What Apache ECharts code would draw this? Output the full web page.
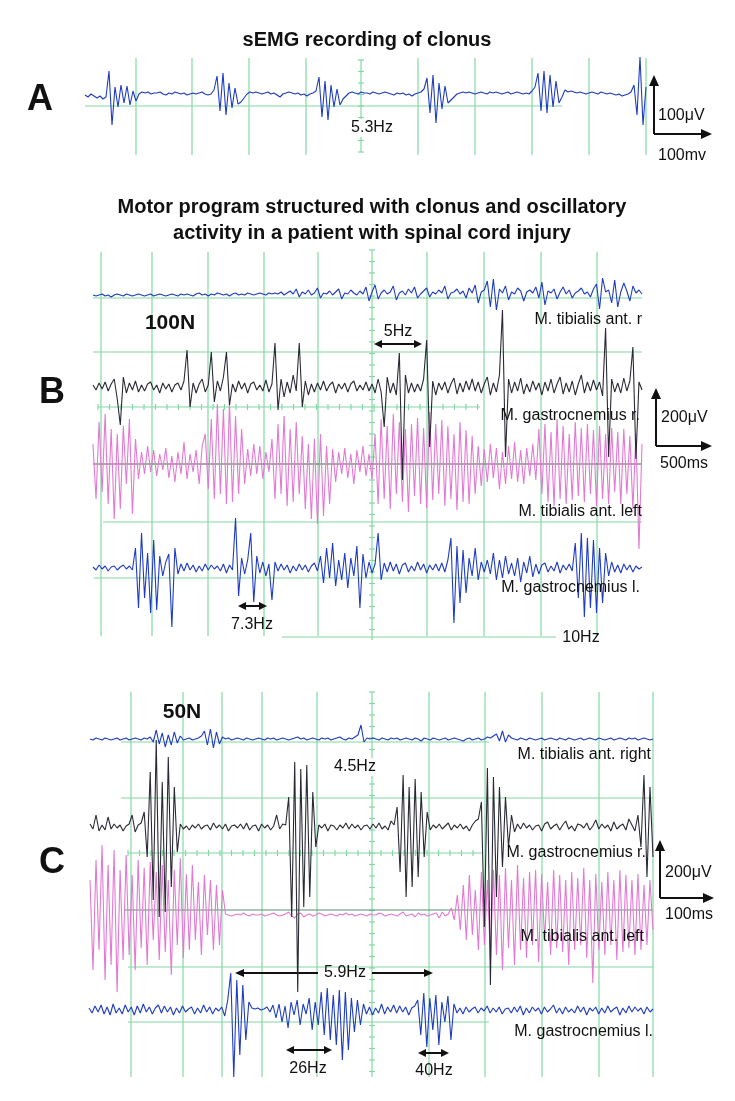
<!DOCTYPE html>
<html><head><meta charset="utf-8">
<script src="https://cdn.jsdelivr.net/npm/echarts@6/dist/echarts.min.js"></script>
<style>html,body{margin:0;padding:0;background:#fff}#c{width:735px;height:1101px}</style>
</head><body><div id="c"></div>
<script>
// ---------- DATA (amplitudes, arbitrary units, baseline = 0) ----------
const traceA = [0,-2,1,-1,-3,-1,-4,-2,
 24,-30,8,-12,10,-8,9,-10,4,-6,1,
 3,2,3,1,2,2,3,1,0,2,1,3,2,1,2,0,1,2,1,2,3,1,0,
 1,5,19,-16,22,-20,12,-13,7,-9,-7,
 -3,1,3,2,3,2,1,2,3,1,2,0,-2,1,2,3,2,1,2,0,1,-1,1,
 2,4,18,-22,14,-25,10,-12,6,-10,-4,-1,
 2,3,2,1,3,2,2,1,3,2,1,2,3,2,1,0,2,1,2,0,1,-1,1,2,
 3,6,17,-18,20,-28,12,-14,9,-8,-5,-2,
 1,2,3,2,3,2,1,2,3,2,1,3,2,3,2,1,2,3,1,2,3,2,1,2,1,
 4,8,22,-16,24,-18,20,-12,14,-8,-2,
 5,3,4,3,2,3,2,1,2,3,2,1,3,2,1,2,1,0,1,-1,0,1,
 3,10,-20,38,-30,8];

const tibRightB = [0,-1,0,1,-1,0,-2,0,1,0,-1,1,0,-1,0,1,0,-1,0,1,-1,0,1,0,-1,0,1,0,-1,1,
 0,1,0,-1,1,2,0,1,-1,1,0,2,1,0,1,-1,1,2,0,1,0,2,1,0,1,2,1,0,2,1,
 2,1,3,0,2,4,1,6,-2,3,1,5,0,2,7,-3,2,1,4,0,3,6,-4,2,1,5,2,0,4,1,
 8,-6,3,10,-4,2,5,1,3,9,-5,2,4,0,6,2,8,-3,1,4,7,-2,3,1,5,2,9,-4,2,3,
 6,1,4,-3,7,2,10,-8,3,5,14,-12,16,-15,6,2,9,-5,3,1,7,4,-6,3,5,2,8,-3,13,-10,
 4,2,6,-4,3,8,1,5,-3,2,4,7,1,3,-2,6,11,-14,17,3,5,-8,15,-12,3,12,4,-6,9,2,5,1];

const gasRightB = [2,-3,4,-2,5,-4,3,8,-12,-38,10,-6,4,-3,6,-5,2,-4,3,5,-3,2,-6,4,-2,3,-5,2,4,-3,
 6,37,-20,4,-6,3,8,-5,2,35,-15,6,-4,10,35,-18,3,-5,6,-2,4,-6,3,5,-3,2,-4,7,-5,3,
 44,-23,8,-10,5,-6,12,-4,44,-20,6,-8,3,-5,4,-3,6,-4,2,5,-6,3,-2,4,-5,3,6,-4,2,-3,
 5,-4,3,-6,8,-5,-40,10,-6,4,-8,34,-93,12,-6,4,-5,3,-4,8,47,-60,6,-8,4,-3,5,-6,3,9,
 -7,4,-5,6,-3,8,-4,5,-6,3,10,-8,4,-5,12,77,-70,8,-6,5,-4,9,-7,3,-5,6,-3,4,-8,5,
 -4,8,-6,3,10,-7,4,-5,6,-8,3,12,-6,5,-4,7,-3,5,-9,59,-70,8,-5,4,-6,9,-4,6,40,-72,5,-3];

const tibLeftB = [20,-35,42,-28,50,-40,35,-55,30,-45,38,-20,45,-50,25,
 -15,12,-10,18,-8,14,-12,10,-6,16,-14,8,-18,12,-10,22,-15,10,-8,14,-20,18,
 30,-25,45,-35,60,-30,55,-40,62,-38,48,-30,35,-20,
 15,-12,20,-10,18,-15,12,-8,25,
 -35,40,-30,48,-42,35,-38,42,-30,28,
 -45,20,-55,25,-60,30,-52,18,-40,15,
 -18,12,-10,16,-14,10,-20,14,-8,18,-12,10,-15,
 30,-40,45,-35,38,-45,50,-30,42,-38,35,-48,40,-32,46,-40,36,-44,52,-36,40,-30,44,-42,38,-35,30,-46,42,-38,34,-40,28,-30,
 18,-22,15,-18,20,-14,16,-25,12,-20,18,-15,22,-18,14,-20,16,-12,20,-16,
 35,-30,40,-38,32,-42,45,-35,38,-40,30,-36,42,-32,36,-38,40,-30,34,-42,38,-35,30,-40,36,-28,
 32,-40,35,-30,28,-45,30,-85,20];

const gasLeftB = [1,-2,3,-1,2,-3,1,2,-2,1,3,-1,2,-2,
 20,-40,35,-30,15,-45,28,-42,12,-8,6,14,-59,20,
 -6,4,-3,5,-2,3,-4,2,-3,4,-2,3,-1,2,-3,4,-5,3,-2,
 50,-28,10,-6,8,35,-34,12,-5,6,-8,4,-32,6,
 -3,4,-2,3,-5,2,-3,4,-2,3,-4,2,5,-3,
 12,-15,20,-10,25,-18,8,-12,15,-20,10,-8,22,-40,14,-10,6,-5,4,
 35,-12,5,-4,6,-3,4,-6,3,5,-4,2,-3,6,-2,4,-5,3,-2,4,-3,5,-4,8,
 30,-55,22,-35,18,-25,10,-8,20,-12,6,-4,8,-6,
 15,-12,8,-10,12,-6,5,-8,10,-14,6,-5,12,-9,4,-6,3,5,-4,2,-3,6,-5,3,-2,4,-3,
 25,-30,35,-49,30,-40,28,-45,20,-35,15,
 -8,6,-4,3,-5,4,-2,3,-4,2,-1,1];

const tibRightC = [0,-1,1,0,-1,1,0,-1,0,1,-1,0,1,-1,0,1,0,-1,1,0,
 2,-3,9,-5,6,-8,4,-6,7,-4,3,
 -1,0,1,-1,0,1,
 3,8,-6,10,-9,7,-5,2,
 0,1,-1,0,1,0,-1,1,0,-1,0,1,0,-1,1,0,1,-1,0,1,0,-1,0,1,2,0,1,-1,0,1,0,-1,1,0,1,-1,0,1,2,0,-1,1,0,
 2,4,14,-3,1,0,
 1,0,-1,1,0,-1,1,0,1,-1,0,1,0,-1,1,0,-2,1,0,-1,1,0,-1,0,1,-1,0,1,0,-1,-2,0,1,-1,0,1,-1,0,2,1,3,
 5,-2,8,-3,4,1,
 0,-1,1,0,-1,1,0,-1,0,1,-1,0,1,0,-1,1,0,-1,1,0,-1,0,1,-1,0,1,0,-1,1,0,-1,0,1,-1,0,1,0,-1,1,0,1,-1,0,1,0,-1,0];

const gasRightC = [3,-2,12,-4,2,-3,10,-2,3,-1,2,-4,1,3,12,-5,2,4,
 15,-30,55,-73,87,-90,45,-85,70,-60,40,-25,
 3,-2,1,-3,2,-1,3,-2,1,2,-3,4,-1,2,-2,3,-4,1,2,-1,3,-2,4,-3,1,2,-4,3,-1,2,-3,1,12,-2,3,2,
 30,-90,65,-165,58,-80,62,-70,35,-20,
 2,-1,3,-4,2,1,-3,2,-1,4,-2,3,-1,2,-3,1,2,-2,3,-1,4,-2,1,-3,6,2,
 20,-45,52,-70,40,-60,48,-50,35,-30,15,
 -3,2,-1,3,-2,1,4,-3,2,-1,3,-2,1,-4,2,6,8,
 25,-100,59,-158,50,-70,40,-40,30,-20,12,-5,
 3,-2,4,-1,2,-3,1,2,-4,3,5,-2,1,3,-3,2,6,-2,1,-4,3,2,-1,4,-3,1,7,-2,3,-1,2,-4,5,-2,1,3,-3,8,2,-4,
 12,-20,52,-50,40,-30];

const tibLeftC = [30,-60,50,-40,65,-70,45,-55,60,-82,40,-50,55,-45,35,-60,50,-38,42,-55,48,-30,38,-50,45,-42,30,-65,40,-35,52,-48,36,-40,45,-30,28,-45,35,-25,30,-40,25,-35,20,
 -4,-5,-6,-5,-4,-5,-3,-5,-6,-4,-5,-5,-4,-6,-5,-4,-3,-5,-6,-5,-4,-2,-6,-8,-4,-3,-7,-5,-4,-6,
 -5,-3,-4,-6,-5,-4,-5,-6,-4,-5,-3,-5,-4,-6,-5,-4,-5,-6,-4,-5,-5,-3,-4,-6,-5,-4,-5,-6,-4,-2,
 -6,-5,-4,-7,-3,-5,-4,-6,-5,-4,-3,-8,-2,-6,-4,2,-10,
 15,-20,25,-30,35,-25,20,-40,38,-35,30,-50,40,-45,35,-60,42,-38,30,-55,45,-40,32,-48,38,-35,40,-52,36,-30,28,-45,40,-38,35,-42,30,-55,38,-40,32,-35,42,-48,30,-73,36,-40,28,-45,38,-35,30,-50,40,-42,35,-38,30,-45,36,-40,25,-35,30,-20];

const gasLeftC = [2,-3,4,-2,5,-4,3,-5,6,-3,2,-4,5,-2,3,-5,4,-3,6,-2,3,-4,2,5,-3,4,-2,3,-5,2,-3,4,-2,1,3,-4,2,-3,5,-2,3,-4,2,-1,3,-6,
 10,37,-67,30,-45,25,-30,8,
 2,1,2,0,1,3,-2,
 5,-8,6,-12,4,-18,8,-5,10,-15,6,-4,
 12,-20,8,-15,18,-25,22,-30,15,-35,20,-50,18,-40,12,-22,10,-15,6,
 -4,3,-5,2,-3,6,-4,3,-2,5,-3,4,-2,3,-5,2,4,
 10,-25,17,-37,12,-20,15,-35,8,-12,14,-30,6,
 -3,2,-4,3,-2,1,3,-3,2,-1,4,-3,2,-2,3,-4,1,2,-3,3,-2,4,-5,2,-3,3,-1,2,-4,3,-2,1,5,-3,2,-4,3,-2,1,-3,4,-2,3,-5,2,-1,3,-4,2,-3,4,-2,1,3,-5,2,-3,4,-2,3,-1,2,-4,3,-2,1];

// ---------- STYLE / LAYOUT ----------
const BLUE = '#1f3cc0', DARK = '#2a2a36', PINK = '#e27ad2', GREEN = '#84d8a4', INK = '#111';
const FONT = "'Liberation Sans', Arial, sans-serif";

const traces = [
  {name:'A', data:traceA,     x0:85, x1:646, base:95,   up:45,  down:45,  color:BLUE},
  {name:'B1', data:tibRightB, x0:93, x1:642, base:295,  up:30,  down:30,  color:BLUE},
  {name:'B3', data:tibLeftB,  x0:93, x1:642, base:464,  up:70,  down:95,  color:PINK},
  {name:'B2', data:gasRightB, x0:93, x1:642, base:387,  up:85,  down:100, color:DARK},
  {name:'B4', data:gasLeftB,  x0:93, x1:642, base:568,  up:60,  down:70,  color:BLUE},
  {name:'C1', data:tibRightC, x0:90, x1:653, base:739,  up:30,  down:30,  color:BLUE},
  {name:'C3', data:tibLeftC,  x0:90, x1:653, base:910,  up:70,  down:90,  color:PINK},
  {name:'C2', data:gasRightC, x0:90, x1:653, base:827,  up:95,  down:175, color:DARK},
  {name:'C4', data:gasLeftC,  x0:89, x1:653, base:1010, up:45,  down:75,  color:BLUE}
];

const grid = [], xAxis = [], yAxis = [], series = [];
traces.forEach((t, i) => {
  grid.push({left:t.x0, top:t.base - t.up, width:t.x1 - t.x0, height:t.up + t.down});
  xAxis.push({gridIndex:i, type:'value', min:0, max:t.data.length - 1, show:false});
  yAxis.push({gridIndex:i, type:'value', min:-t.down, max:t.up, show:false});
  series.push({type:'line', name:t.name, xAxisIndex:i, yAxisIndex:i,
    data:t.data.map((v, k) => [k, v]), showSymbol:false, symbol:'none',
    lineStyle:{color:t.color, width:1.1}, z:5, animation:false, silent:true});
});

// ---------- decorations (oscilloscope graticule, labels) ----------
const els = [];
function L(x1,y1,x2,y2,c,w){ els.push({type:'line', z:1, silent:true, shape:{x1,y1,x2,y2}, style:{stroke:c||GREEN, lineWidth:w||1.2}}); }
function vlines(xs,y1,y2){ xs.forEach(x => L(x,y1,x,y2)); }
function tickV(x,y1,y2,step){ L(x,y1,x,y2); for(let y=y1; y<=y2+0.1; y+=step) L(x-3,y,x+3,y); }
function tickH(y,x1,x2,step){ L(x1,y,x2,y); for(let x=x1; x<=x2+0.1; x+=step) L(x,y-3,x,y+3); }
function head(x,y,dir,s,h){
  s=s||9; h=h||4; let p;
  if(dir==='up') p=[[x,y],[x-h,y+s],[x+h,y+s]];
  else if(dir==='right') p=[[x,y],[x-s,y-h],[x-s,y+h]];
  else p=[[x,y],[x+s,y-h],[x+s,y+h]];
  els.push({type:'polygon', z:20, silent:true, shape:{points:p}, style:{fill:INK}});
}
function dbl(x1,x2,y){ L(x1+6,y,x2-6,y,INK,2); head(x1,y,'left',8,4); head(x2,y,'right',8,4); }
function scaleBar(x,yTop,yBot,xRight){ L(x,yBot,x,yTop+8,INK,2); head(x,yTop,'up',11,5); L(x,yBot,xRight-8,yBot,INK,2); head(xRight,yBot,'right',11,5); }
function T(s,x,y,size,opt){
  opt=opt||{};
  const st={text:s, font:(opt.bold?'bold ':'')+size+'px '+FONT, fill:INK,
    textAlign:opt.align||'center', textVerticalAlign:'middle', align:opt.align||'center', verticalAlign:'middle'};
  if(opt.bg){ st.backgroundColor='#fff'; st.padding=[1,2]; }
  els.push({type:'text', z:100, silent:true, x, y, style:st});
}

// Panel A
vlines([136,192,249,306,418,475,532,589,646], 58, 155);
tickV(361, 60, 152, 11.5);
L(85,106,562,106);
T('sEMG recording of clonus', 367, 40, 20, {bold:true});
T('A', 40, 100, 36, {bold:true});
T('5.3Hz', 372, 128, 16, {bg:true});
scaleBar(654, 75, 134, 712);
T('100\u03bcV', 658, 116, 16, {align:'left'});
T('100mv', 658, 156, 16, {align:'left'});

// Panel B
vlines([101,152,208,264,318,427,484,541,597], 252, 636);
tickV(372, 250, 640, 11.5);
L(93,298,642,298); L(93,352,642,352);
tickH(407, 98, 480, 11.5);
L(93,464,642,464,'#555',1.1);
L(103,522,642,522); L(94,578,489,578); L(282,637,556,637);
T('Motor program structured with clonus and oscillatory', 372, 207, 20, {bold:true});
T('activity in a patient with spinal cord injury', 372, 233, 20, {bold:true});
T('100N', 170, 323, 21, {bold:true});
T('B', 52, 393, 36, {bold:true});
T('M. tibialis ant. r', 642, 320, 16, {align:'right'});
T('5Hz', 398, 332, 16);
dbl(374, 422, 344);
T('M. gastrocnemius r.', 640, 416, 16, {align:'right'});
T('M. tibialis ant. left', 642, 512, 16, {align:'right'});
T('M. gastrocnemius l.', 640, 588, 16, {align:'right'});
T('7.3Hz', 252, 625, 16);
dbl(238, 267, 606);
T('10Hz', 581, 638, 16);
scaleBar(656, 388, 446, 712);
T('200\u03bcV', 661, 418, 16, {align:'left'});
T('500ms', 660, 464, 16, {align:'left'});

// Panel C
vlines([131,183,222,262,317,429,485,542,599,653], 692, 1077);
tickV(372, 692, 1077, 11.5);
L(121,742,489,742); L(121,798,653,798);
tickH(853, 128, 482, 11.5);
L(125,910,653,910,'#5a8f6e',1.1);
L(128,967,653,967); L(128,1022,489,1022);
T('50N', 182, 712, 21, {bold:true});
T('M. tibialis ant. right', 651, 755, 16, {align:'right'});
T('4.5Hz', 355, 767, 16, {bg:true});
T('M. gastrocnemius r.', 646, 853, 16, {align:'right'});
T('C', 52, 863, 36, {bold:true});
scaleBar(660, 840, 898, 714);
T('200\u03bcV', 665, 873, 16, {align:'left'});
T('100ms', 665, 915, 16, {align:'left'});
T('M. tibialis ant. left', 644, 937, 16, {align:'right'});
T('5.9Hz', 345, 973, 16);
L(243,973,318,973,INK,2); head(235,973,'left',9,4);
L(372,973,425,973,INK,2); head(433,973,'right',9,4);
T('M. gastrocnemius l.', 653, 1032, 16, {align:'right'});
dbl(286, 332, 1050);
T('26Hz', 308, 1069, 16);
dbl(418, 449, 1053);
T('40Hz', 434, 1071, 16);

const chart = echarts.init(document.getElementById('c'), null, {renderer:'canvas'});
chart.setOption({
  animation:false, backgroundColor:'#fff',
  grid, xAxis, yAxis, series,
  graphic:{elements:els}
});
</script>
</body></html>
